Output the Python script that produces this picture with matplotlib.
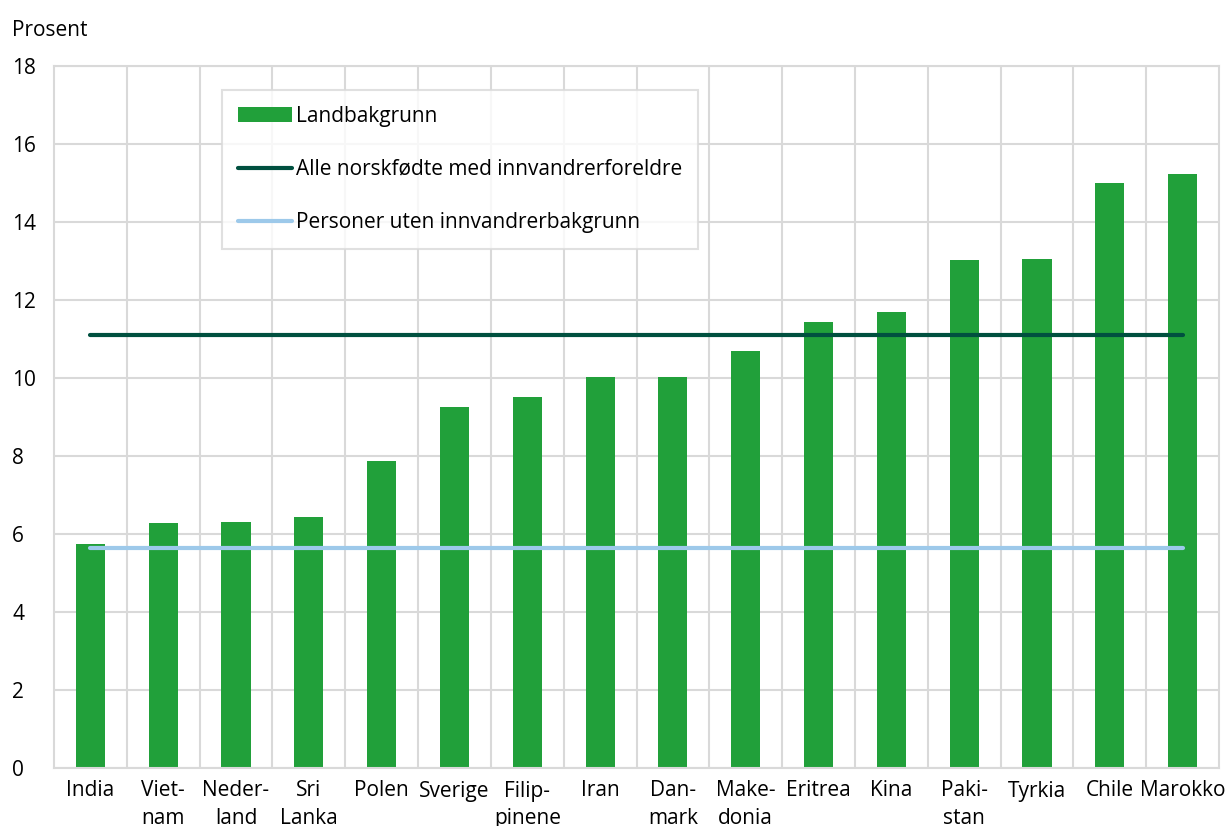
import numpy as np
import matplotlib
matplotlib.use("Agg")
import matplotlib.pyplot as plt

plt.rcParams['font.family'] = ['Open Sans', 'DejaVu Sans']

countries = ["India", "Viet-\nnam", "Neder-\nland", "Sri\nLanka", "Polen", "Sverige",
             "Filip-\npinene", "Iran", "Dan-\nmark", "Make-\ndonia", "Eritrea", "Kina",
             "Paki-\nstan", "Tyrkia", "Chile", "Marokko"]
landbakgrunn = [5.74, 6.28, 6.31, 6.44, 7.87, 9.26, 9.51, 10.03, 10.03, 10.69,
                11.44, 11.69, 13.03, 13.05, 15.0, 15.23]
alle_norskfodte = 11.1
uten_bakgrunn = 5.64

GREEN = "#21a03a"
DARK = "#00503f"
LIGHT = "#9dc9ea"
GRID = "#d9d9d9"

fig = plt.figure(figsize=(12.26, 8.26), dpi=100)
ax = fig.add_axes([54 / 1226, 1 - 768 / 826, (1219 - 54) / 1226, 702 / 826])

x = np.arange(len(countries))
bars = ax.bar(x, landbakgrunn, width=0.4, color=GREEN, zorder=2)
l1, = ax.plot(x, [alle_norskfodte] * len(x), color=DARK, lw=3, solid_capstyle='round', zorder=3)
l2, = ax.plot(x, [uten_bakgrunn] * len(x), color=LIGHT, lw=3, solid_capstyle='round', zorder=3)

ax.set_xlim(-0.5, len(x) - 0.5)
ax.set_ylim(0, 18)
ax.set_yticks(range(0, 19, 2))
ax.set_xticks(x)
ax.set_xticklabels(countries, fontsize=15, linespacing=1.4)
ax.set_xticks(np.arange(0.5, len(x) - 1, 1), minor=True)

ax.grid(axis='y', which='major', color=GRID, lw=1.5, zorder=0)
ax.grid(axis='x', which='minor', color=GRID, lw=1.5, zorder=0)
ax.grid(axis='x', which='major', visible=False)
for s in ax.spines.values():
    s.set_color(GRID)
    s.set_linewidth(1.5)

ax.tick_params(axis='both', which='both', length=0, labelsize=15, colors='black')
ax.tick_params(axis='x', pad=9)
ax.tick_params(axis='y', pad=30)
for lab in ax.get_yticklabels():
    lab.set_horizontalalignment('left')

fig.text(12 / 1226, 1 - 20 / 826, "Prosent", fontsize=15, va='top', ha='left')

leg = fig.legend([bars, l1, l2],
                 ["Landbakgrunn", "Alle norskfødte med innvandrerforeldre",
                  "Personer uten innvandrerbakgrunn"],
                 loc='upper left', bbox_to_anchor=(222 / 1226, 1 - 90 / 826),
                 fontsize=15, frameon=True, fancybox=False, handlelength=2.6,
                 handletextpad=0.2, labelspacing=1.55, borderpad=0.75,
                 borderaxespad=0)
leg.get_frame().set_edgecolor(GRID)
leg.get_frame().set_linewidth(1.5)

fig.savefig("out.png", dpi=100)
